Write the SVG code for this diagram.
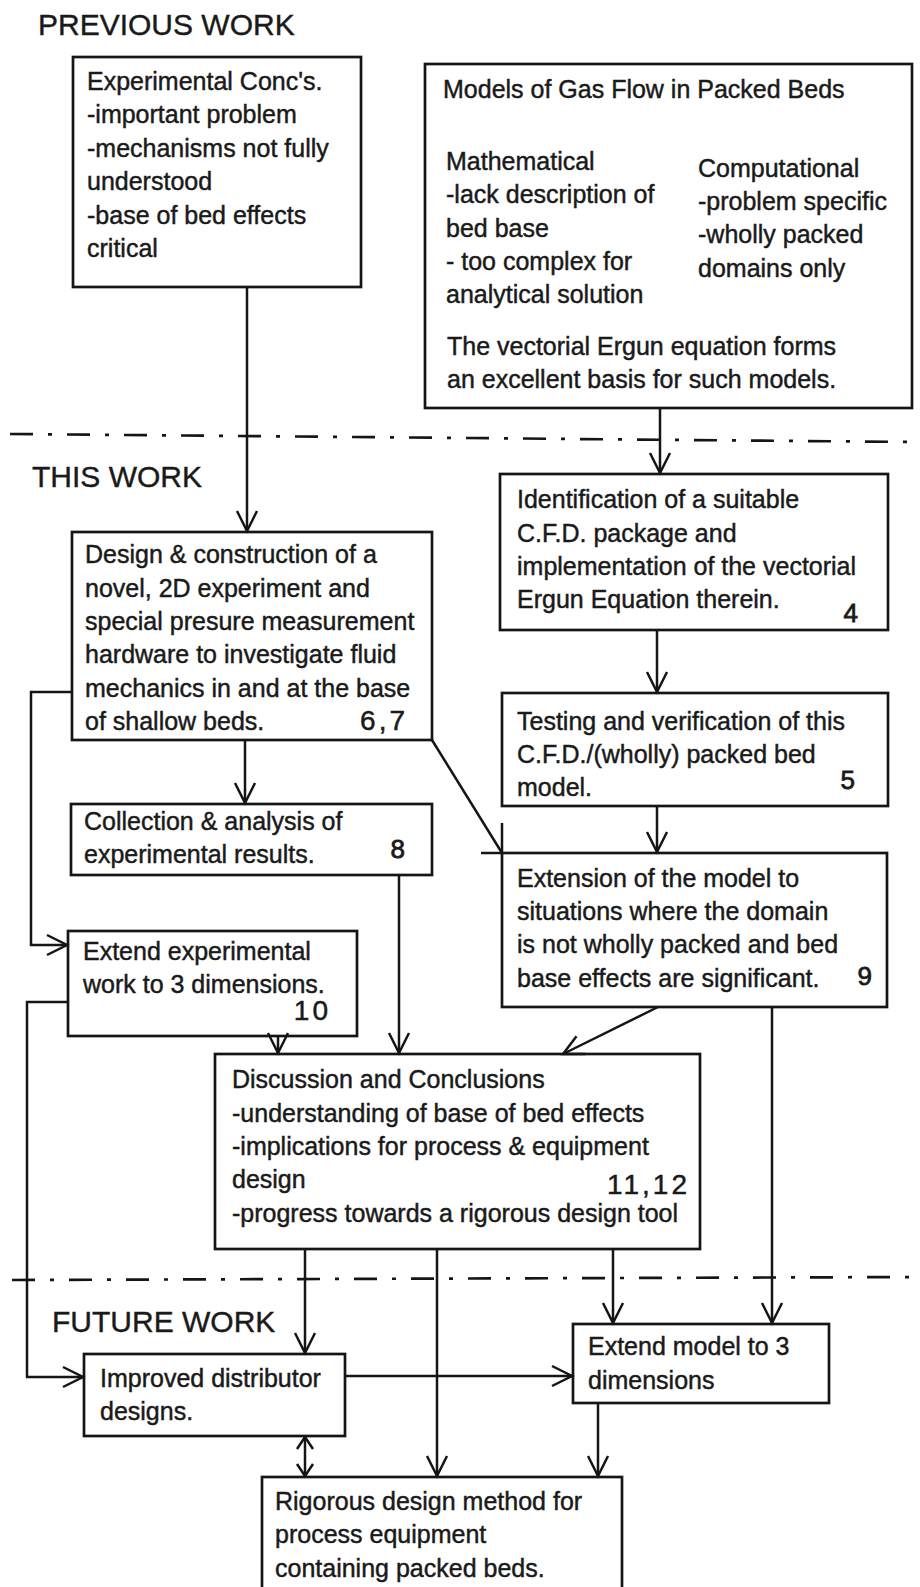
<svg xmlns="http://www.w3.org/2000/svg" width="920" height="1587" viewBox="0 0 920 1587">
<style>
.box{fill:none;stroke:#151515;stroke-width:2.7}
.t{font-family:"Liberation Sans",Arial,sans-serif;font-size:25px;fill:#1a1a1a;stroke:#1a1a1a;stroke-width:0.45}
.h{font-family:"Liberation Sans",Arial,sans-serif;font-size:30px;fill:#1a1a1a;stroke:#1a1a1a;stroke-width:0.4}
.n{font-family:"Liberation Sans",Arial,sans-serif;font-size:26px;fill:#1a1a1a;stroke:#1a1a1a;stroke-width:0.8;text-anchor:end}
.nn{font-family:"Liberation Sans",Arial,sans-serif;font-size:28px;fill:#1a1a1a;stroke:#1a1a1a;stroke-width:0.5;text-anchor:end;letter-spacing:3px}
.c{fill:none;stroke:#151515;stroke-width:2.5}
.sep{fill:none;stroke:#151515;stroke-width:2.7;stroke-dasharray:23 15 4 15}
</style>
<defs>
<marker id="ah" viewBox="-22 -12 24 24" markerWidth="24" markerHeight="24" refX="0" refY="0" markerUnits="userSpaceOnUse" orient="auto-start-reverse" overflow="visible">
<path d="M-20,-10 L0,0 L-20,10" fill="none" stroke="#151515" stroke-width="2.5"/>
</marker>
<marker id="ahs" viewBox="-14 -10 16 20" markerWidth="16" markerHeight="20" refX="0" refY="0" markerUnits="userSpaceOnUse" orient="auto-start-reverse" overflow="visible">
<path d="M-12,-8 L0,0 L-12,8" fill="none" stroke="#151515" stroke-width="2.5"/>
</marker>
</defs>
<rect x="0" y="0" width="920" height="1587" fill="#fff"/>

<g id="headings">
<text class="h" x="38" y="35">PREVIOUS WORK</text>
<text class="h" x="32" y="487">THIS WORK</text>
<text class="h" x="52" y="1332">FUTURE WORK</text>
</g>

<g id="separators">
<line class="sep" x1="10" y1="434" x2="917" y2="442"/>
<line class="sep" x1="12" y1="1280" x2="920" y2="1277"/>
</g>

<g id="connectors">
<path class="c" d="M247,287 L247,531" marker-end="url(#ah)"/>
<path class="c" d="M660,408 L660,473" marker-end="url(#ah)"/>
<path class="c" d="M72,692 L31,692 L31,945 L67,945" marker-end="url(#ah)"/>
<path class="c" d="M245,740 L245,803" marker-end="url(#ah)"/>
<path class="c" d="M432,740 L502,853"/>
<path class="c" d="M502,823 L502,853 M481,853 L502,853"/>
<path class="c" d="M657,630 L657,692" marker-end="url(#ah)"/>
<path class="c" d="M657,806 L657,852" marker-end="url(#ah)"/>
<path class="c" d="M399,875 L399,1053" marker-end="url(#ah)"/>
<path class="c" d="M278,1036 L278,1053" marker-end="url(#ah)"/>
<path class="c" d="M658,1007 L563,1054" marker-end="url(#ah)"/>
<path class="c" d="M772,1007 L772,1323" marker-end="url(#ah)"/>
<path class="c" d="M68,1002 L27,1002 L27,1377 L83,1377" marker-end="url(#ah)"/>
<path class="c" d="M305,1249 L305,1353" marker-end="url(#ah)"/>
<path class="c" d="M437,1249 L437,1476" marker-end="url(#ah)"/>
<path class="c" d="M613,1249 L613,1323" marker-end="url(#ah)"/>
<path class="c" d="M345,1376 L572,1376" marker-end="url(#ah)"/>
<path class="c" d="M305,1437 L305,1476" marker-start="url(#ahs)" marker-end="url(#ahs)"/>
<path class="c" d="M598,1403 L598,1476" marker-end="url(#ah)"/>
</g>

<g id="n1">
<rect class="box" x="73" y="57" width="288" height="230"/>
<text class="t" x="87" y="90">Experimental Conc's.</text>
<text class="t" x="87" y="123">-important problem</text>
<text class="t" x="87" y="157">-mechanisms not fully</text>
<text class="t" x="87" y="190">understood</text>
<text class="t" x="87" y="224">-base of bed effects</text>
<text class="t" x="87" y="257">critical</text>
</g>

<g id="n2">
<rect class="box" x="425" y="64" width="487" height="344"/>
<text class="t" x="443" y="98">Models of Gas Flow in Packed Beds</text>
<text class="t" x="446" y="170">Mathematical</text>
<text class="t" x="446" y="203">-lack description of</text>
<text class="t" x="446" y="237">bed base</text>
<text class="t" x="446" y="270">- too complex for</text>
<text class="t" x="446" y="303">analytical solution</text>
<text class="t" x="698" y="177">Computational</text>
<text class="t" x="698" y="210">-problem specific</text>
<text class="t" x="698" y="243">-wholly packed</text>
<text class="t" x="698" y="277">domains only</text>
<text class="t" x="447" y="355">The vectorial Ergun equation forms</text>
<text class="t" x="447" y="388">an excellent basis for such models.</text>
</g>

<g id="n3">
<rect class="box" x="72" y="532" width="360" height="208"/>
<text class="t" x="85" y="563">Design &amp; construction of a</text>
<text class="t" x="85" y="597">novel, 2D experiment and</text>
<text class="t" x="85" y="630">special presure measurement</text>
<text class="t" x="85" y="663">hardware to investigate fluid</text>
<text class="t" x="85" y="697">mechanics in and at the base</text>
<text class="t" x="85" y="730">of shallow beds.</text>
<text class="nn" x="408" y="730">6,7</text>
</g>

<g id="n4">
<rect class="box" x="500" y="474" width="388" height="156"/>
<text class="t" x="517" y="508">Identification of a suitable</text>
<text class="t" x="517" y="542">C.F.D. package and</text>
<text class="t" x="517" y="575">implementation of the vectorial</text>
<text class="t" x="517" y="608">Ergun Equation therein.</text>
<text class="n" x="858" y="622">4</text>
</g>

<g id="n5">
<rect class="box" x="502" y="693" width="386" height="113"/>
<text class="t" x="517" y="730">Testing and verification of this</text>
<text class="t" x="517" y="763">C.F.D./(wholly) packed bed</text>
<text class="t" x="517" y="796">model.</text>
<text class="n" x="855" y="789">5</text>
</g>

<g id="n6">
<rect class="box" x="502" y="853" width="385" height="154"/>
<text class="t" x="517" y="887">Extension of the model to</text>
<text class="t" x="517" y="920">situations where the domain</text>
<text class="t" x="517" y="953">is not wholly packed and bed</text>
<text class="t" x="517" y="987">base effects are significant.</text>
<text class="n" x="872" y="985">9</text>
</g>

<g id="n7">
<rect class="box" x="71" y="804" width="361" height="71"/>
<text class="t" x="84" y="830">Collection &amp; analysis of</text>
<text class="t" x="84" y="863">experimental results.</text>
<text class="n" x="405" y="858">8</text>
</g>

<g id="n8">
<rect class="box" x="68" y="931" width="289" height="105"/>
<text class="t" x="83" y="960">Extend experimental</text>
<text class="t" x="83" y="993">work to 3 dimensions.</text>
<text class="nn" x="331" y="1020">10</text>
</g>

<g id="n9">
<rect class="box" x="215" y="1054" width="485" height="195"/>
<text class="t" x="232" y="1088">Discussion and Conclusions</text>
<text class="t" x="232" y="1122">-understanding of base of bed effects</text>
<text class="t" x="232" y="1155">-implications for process &amp; equipment</text>
<text class="t" x="232" y="1188">design</text>
<text class="t" x="232" y="1222">-progress towards a rigorous design tool</text>
<text class="nn" x="690" y="1194">11,12</text>
</g>

<g id="n10">
<rect class="box" x="84" y="1354" width="261" height="82"/>
<text class="t" x="100" y="1387">Improved distributor</text>
<text class="t" x="100" y="1420">designs.</text>
</g>

<g id="n11">
<rect class="box" x="573" y="1324" width="256" height="79"/>
<text class="t" x="588" y="1355">Extend model to 3</text>
<text class="t" x="588" y="1389">dimensions</text>
</g>

<g id="n12">
<rect class="box" x="262" y="1477" width="360" height="116"/>
<text class="t" x="275" y="1510">Rigorous design method for</text>
<text class="t" x="275" y="1543">process equipment</text>
<text class="t" x="275" y="1577">containing packed beds.</text>
</g>
</svg>
